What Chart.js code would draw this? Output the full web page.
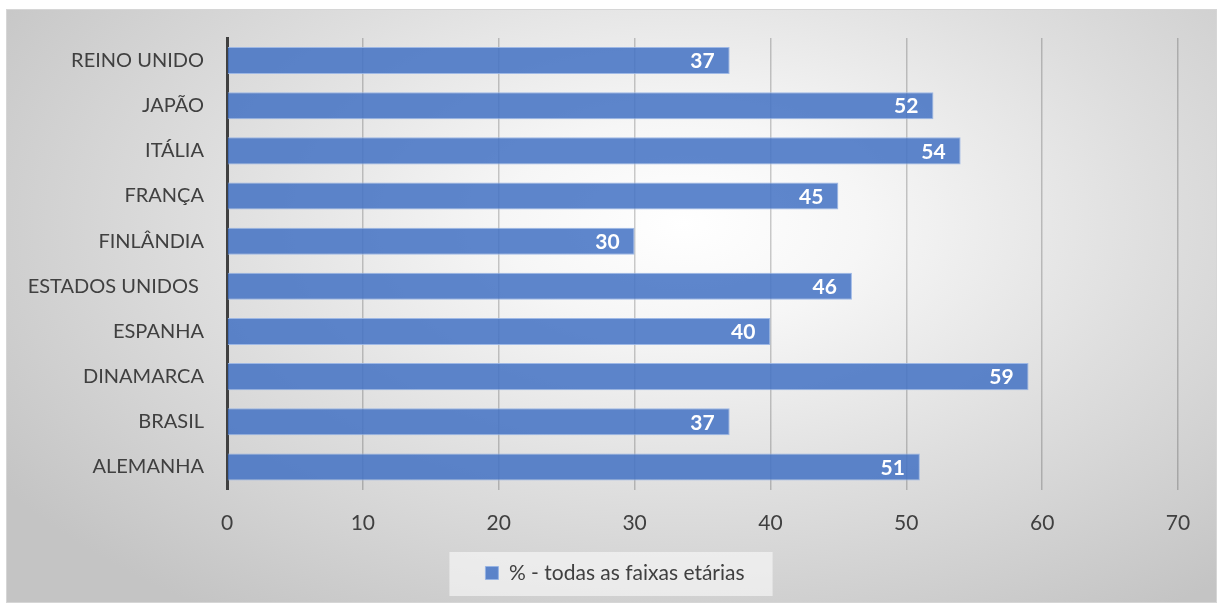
<!DOCTYPE html>
<html>
<head>
<meta charset="utf-8">
<script src="https://cdn.jsdelivr.net/npm/chart.js@4.4.0/dist/chart.umd.min.js"></script>
<style>
  html, body { margin: 0; padding: 0; background: #ffffff; width: 1217px; height: 607px; overflow: hidden; }
  #bg {
    position: absolute; left: 6px; top: 9px; width: 1211px; height: 594px;
    box-sizing: border-box; border: 1px solid #d6d6d6;
    background: radial-gradient(ellipse 68% 80% at 56% 36%, #ffffff 0%, #f6f6f6 22%, #dedede 58%, #c4c4c4 100%);
  }
  #wrap { position: absolute; left: 0; top: 0; width: 1217px; height: 607px; }
</style>
</head>
<body>
<div id="bg"></div>
<div id="wrap"><canvas id="c" width="1217" height="607"></canvas></div>
<script>
const categories = ["REINO UNIDO", "JAPÃO", "ITÁLIA", "FRANÇA", "FINLÂNDIA", "ESTADOS UNIDOS ", "ESPANHA", "DINAMARCA", "BRASIL", "ALEMANHA"];
const values = [37, 52, 54, 45, 30, 46, 40, 59, 37, 51];
const seriesName = "% - todas as faixas etárias";
const xTicks = [0, 10, 20, 30, 40, 50, 60, 70];

const FONT = "Lato";
const TEXT = "#404040";
const LEGEND_SHIFT = 18;

const legendShiftPlugin = {
  id: 'legendShift',
  afterLayout(chart) {
    const lg = chart.legend;
    if (!lg) return;
    lg.left += LEGEND_SHIFT;
    lg.right += LEGEND_SHIFT;
    if (lg.legendHitBoxes) lg.legendHitBoxes.forEach(h => { h.left += LEGEND_SHIFT; });
  }
};

const legendBoxPlugin = {
  id: 'legendBox',
  beforeDraw(chart) {
    const lg = chart.legend;
    if (!lg) return;
    const ctx = chart.ctx;
    ctx.save();
    ctx.font = "21px " + FONT;
    const tw = ctx.measureText(seriesName).width;
    const itemW = 13 + 10.5 + tw;
    const cx = (lg.left + lg.right) / 2;
    const itemLeft = cx - itemW / 2;
    const itemTop = lg.top + 10;
    ctx.fillStyle = 'rgba(255,255,255,0.55)';
    const x0 = itemLeft - 36, x1 = itemLeft + itemW + 28;
    const y0 = itemTop - 10.5, y1 = itemTop + 21 + 12.5;
    ctx.fillRect(x0, y0, x1 - x0, y1 - y0);
    ctx.restore();
  }
};

const barLabelPlugin = {
  id: 'barLabels',
  afterDatasetsDraw(chart) {
    const ctx = chart.ctx;
    const meta = chart.getDatasetMeta(0);
    const data = chart.data.datasets[0].data;
    ctx.save();
    ctx.font = "bold 21px " + FONT;
    ctx.fillStyle = "#ffffff";
    ctx.textAlign = "right";
    ctx.textBaseline = "middle";
    meta.data.forEach((bar, i) => {
      ctx.fillText(String(data[i]), bar.x - 15, bar.y + 1);
    });
    ctx.restore();
  }
};

new Chart(document.getElementById('c'), {
  type: 'bar',
  data: {
    labels: categories,
    datasets: [{
      label: seriesName,
      data: values,
      backgroundColor: 'rgba(68,114,196,0.86)',
      borderColor: 'rgba(150,178,228,0.9)',
      borderWidth: 1,
      categoryPercentage: 1.0,
      barPercentage: 0.6
    }]
  },
  options: {
    indexAxis: 'y',
    responsive: false,
    animation: false,
    devicePixelRatio: 1,
    layout: { padding: { top: 38, right: 39, left: 16, bottom: 13.5 } },
    plugins: {
      legend: {
        position: 'bottom',
        labels: {
          font: { family: FONT, size: 21 },
          color: TEXT,
          boxWidth: 13,
          boxHeight: 13,
          padding: 10
        }
      },
      tooltip: { enabled: false }
    },
    scales: {
      x: {
        type: 'linear',
        min: xTicks[0],
        max: xTicks[xTicks.length - 1],
        afterBuildTicks(scale) { scale.ticks = xTicks.map(v => ({ value: v })); },
        afterFit(scale) { scale.height = 63; },
        grid: { color: 'rgba(0,0,0,0.2)', lineWidth: 1.5, drawTicks: false },
        border: { display: false },
        ticks: { font: { family: FONT, size: 21 }, color: TEXT, padding: 21 }
      },
      y: {
        afterFit(scale) { scale.width = 211; },
        grid: { display: false, drawTicks: false },
        border: { display: true, color: '#404040', width: 3 },
        ticks: { font: { family: FONT, size: 20 }, color: TEXT, padding: 23 }
      }
    }
  },
  plugins: [legendShiftPlugin, legendBoxPlugin, barLabelPlugin]
});
</script>
</body>
</html>
